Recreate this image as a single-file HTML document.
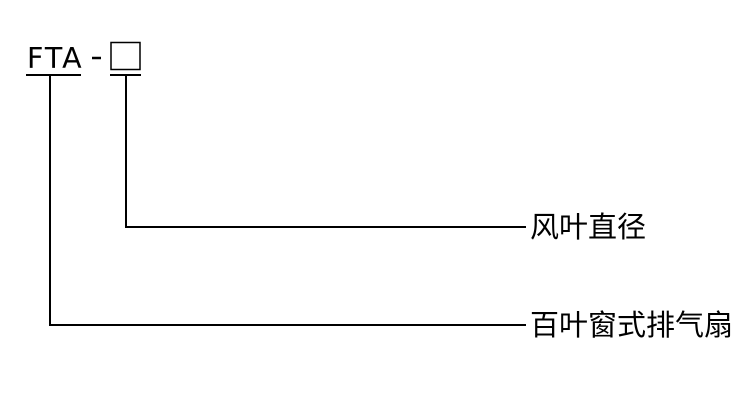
<!DOCTYPE html>
<html><head><meta charset="utf-8"><style>
html,body{margin:0;padding:0;background:#fff;width:750px;height:400px;overflow:hidden}
</style></head><body>
<svg width="750" height="400" viewBox="0 0 750 400" xmlns="http://www.w3.org/2000/svg">
<text x="27" y="68" font-family="DejaVu Sans, sans-serif" font-size="28.5" letter-spacing="2" fill="#000">FTA</text>
<line x1="92" y1="58" x2="101" y2="58" stroke="#000" stroke-width="2.5"/>
<rect x="111" y="42.5" width="29" height="27" fill="none" stroke="#000" stroke-width="1.5"/>
<line x1="26" y1="75" x2="81" y2="75" stroke="#000" stroke-width="2"/>
<line x1="110" y1="75" x2="141" y2="75" stroke="#000" stroke-width="2"/>
<polyline points="50,75 50,325 526,325" fill="none" stroke="#000" stroke-width="2"/>
<polyline points="126,75 126,227 526,227" fill="none" stroke="#000" stroke-width="2"/>
<text x="530" y="237" font-family="Liberation Sans, 'Noto Sans CJK SC', sans-serif" font-size="29" fill="#000">风叶直径</text>
<text x="530" y="335" font-family="Liberation Sans, 'Noto Sans CJK SC', sans-serif" font-size="29" fill="#000">百叶窗式排气扇</text>
</svg>
</body></html>
